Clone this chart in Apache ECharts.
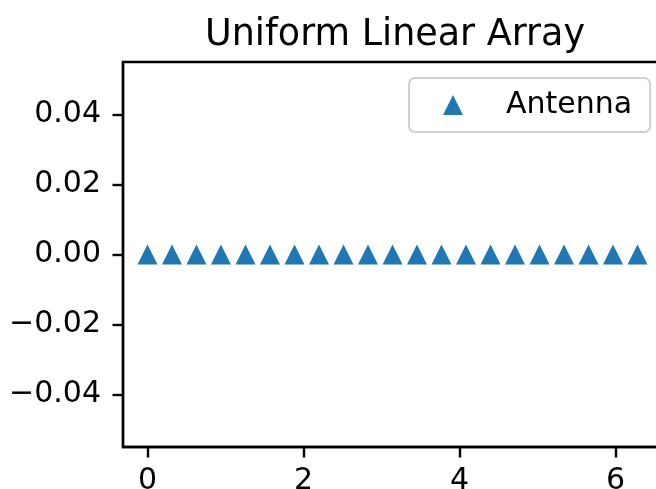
<!DOCTYPE html>
<html>
<head>
<meta charset="utf-8">
<script src="https://cdn.jsdelivr.net/npm/echarts@6/dist/echarts.min.js"></script>
<style>html,body{margin:0;padding:0;background:#fff}#c{width:656px;height:489px}</style>
</head>
<body>
<div id="c"></div>
<script>
const titleText = 'Uniform Linear Array';
const seriesName = 'Antenna';
const antennaX = [0, 0.314, 0.628, 0.942, 1.257, 1.571, 1.885, 2.199, 2.513, 2.827, 3.142, 3.456, 3.770, 4.084, 4.398, 4.712, 5.027, 5.341, 5.655, 5.969, 6.283];
const antennaY = [0, 0, 0, 0, 0, 0, 0, 0, 0, 0, 0, 0, 0, 0, 0, 0, 0, 0, 0, 0, 0];
const xTicks = [0, 2, 4, 6];
const yTicks = [-0.04, -0.02, 0, 0.02, 0.04];

const FONT = 'DejaVu Sans';
const chart = echarts.init(document.getElementById('c'), null, {renderer: 'canvas'});
chart.setOption({
  animation: false,
  backgroundColor: '#fff',
  title: {
    text: titleText, left: 390, top: 12, textAlign: 'center',
    textStyle: {fontFamily: FONT, fontSize: 36.5, fontWeight: 'normal', color: '#000'}
  },
  legend: {
    data: [seriesName], left: 409, top: 78,
    padding: [12, 18, 12, 34],
    itemWidth: 20, itemHeight: 20,
    backgroundColor: 'rgba(255,255,255,0.8)',
    borderColor: '#d0d0d0', borderWidth: 2, borderRadius: 6,
    textStyle: {fontFamily: FONT, fontSize: 30, color: '#000', padding: [0, 0, 0, 38]}
  },
  grid: {left: 123, top: 62, width: 539, height: 385, outerBoundsMode: 'none', containLabel: false,
    show: true, borderColor: '#000', borderWidth: 2.4, backgroundColor: 'transparent'},
  xAxis: {
    type: 'value', min: -0.314, max: 6.597,
    splitLine: {show: false},
    axisLine: {show: true, onZero: false, lineStyle: {color: '#000', width: 2.4}},
    axisTick: {show: true, customValues: xTicks, length: 10.5, lineStyle: {color: '#000', width: 2.4}},
    axisLabel: {customValues: xTicks, margin: 19, fontFamily: FONT, fontSize: 30, color: '#000', formatter: v => String(v)}
  },
  yAxis: {
    type: 'value', min: -0.055, max: 0.055,
    splitLine: {show: false},
    axisLine: {show: true, onZero: false, lineStyle: {color: '#000', width: 2.4}},
    axisTick: {show: true, customValues: yTicks, length: 10.5, lineStyle: {color: '#000', width: 2.4}},
    axisLabel: {customValues: yTicks, margin: 22, fontFamily: FONT, fontSize: 30, color: '#000',
      formatter: v => (v < -1e-9 ? '\u2212' : '') + Math.abs(v).toFixed(2)}
  },
  series: [{
    name: seriesName, type: 'scatter', symbol: 'triangle', symbolSize: 20,
    itemStyle: {color: '#1f77b4', opacity: 1},
    data: antennaX.map((x, i) => [x, antennaY[i]])
  }]
});
</script>
</body>
</html>
